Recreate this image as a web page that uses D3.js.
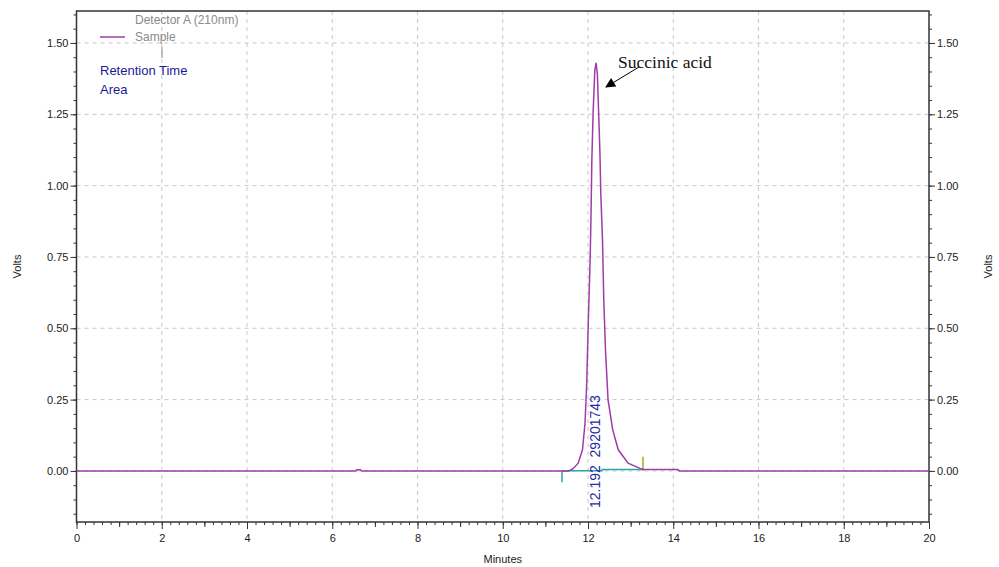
<!DOCTYPE html>
<html>
<head>
<meta charset="utf-8">
<script src="https://cdn.jsdelivr.net/npm/d3@7"></script>
<style>
  body { margin: 0; background: #fff; }
  svg { display: block; font-family: "Liberation Sans", Arial, sans-serif; }
  .tick text { font-size: 11px; fill: #222; }
  .grid line { stroke: #c8c8c8; stroke-dasharray: 4,4; }
</style>
</head>
<body>
<div id="chart"></div>
<script>
// chromatogram trace (minutes, volts)
const times = [0, 6.55, 6.58, 6.66, 6.69, 11.55, 11.65, 11.77, 11.87, 11.93, 11.97, 12.01, 12.05, 12.07,
  12.09, 12.12, 12.16, 12.19, 12.22, 12.25, 12.28, 12.30, 12.34, 12.37, 12.41, 12.47, 12.58, 12.71,
  12.94, 13.22, 13.30, 14.10, 14.15, 20];
const volts = [0, 0, 0.004, 0.004, 0, 0, 0.008, 0.027, 0.074, 0.167, 0.307, 0.54, 0.74, 0.89,
  1.09, 1.255, 1.405, 1.43, 1.39, 1.255, 1.115, 0.974, 0.81, 0.60, 0.424, 0.25, 0.144, 0.074,
  0.027, 0.009, 0.005, 0.005, 0, 0];

// integration marks
const peakStart = 11.39;
const peakEnd = 13.29;
const retentionTime = 12.192;
const peakArea = 29201743;
const baseTimes = [11.39, 12.33, 12.33, 13.27];
const baseVolts = [0.001, 0.001, 0.005, 0.005];

const xTicks = [0, 2, 4, 6, 8, 10, 12, 14, 16, 18, 20];
const yTicks = [0, 0.25, 0.5, 0.75, 1.0, 1.25, 1.5];

const width = 999, height = 567;
const plot = { left: 76.5, right: 929, top: 11, bottom: 522 };

const svg = d3.select('#chart').append('svg')
  .attr('width', width)
  .attr('height', height);

const x = d3.scaleLinear().domain([0, 20]).range([plot.left, plot.right]);
const y = d3.scaleLinear().domain([-0.179, 1.612]).range([plot.bottom, plot.top]);

// grid
const grid = svg.append('g').attr('class', 'grid');
grid.selectAll('.gx')
  .data(xTicks.slice(1, -1))
  .enter().append('line')
  .attr('x1', d => x(d)).attr('x2', d => x(d))
  .attr('y1', plot.top).attr('y2', plot.bottom);
grid.selectAll('.gy')
  .data(yTicks)
  .enter().append('line')
  .attr('x1', plot.left).attr('x2', plot.right)
  .attr('y1', d => y(d)).attr('y2', d => y(d));

// axes
const axisColor = '#333';
function styleAxis(g) {
  g.select('.domain').remove();
  g.selectAll('.tick line').attr('stroke', axisColor);
}

const minorY = d3.range(-0.15, 1.61, 0.05).map(d => +d.toFixed(2));
const minorX = d3.range(0, 20.01, 0.2).map(d => +d.toFixed(1));
const midX = d3.range(1, 20, 2);

svg.append('g').attr('transform', `translate(${plot.left},0)`)
  .call(d3.axisLeft(y).tickValues(minorY).tickSize(3).tickFormat(''))
  .call(styleAxis);
svg.append('g').attr('transform', `translate(${plot.left},0)`)
  .call(d3.axisLeft(y).tickValues(yTicks).tickSize(6).tickPadding(2).tickFormat(d3.format('.2f')))
  .call(styleAxis);
svg.append('g').attr('transform', `translate(${plot.right},0)`)
  .call(d3.axisRight(y).tickValues(minorY).tickSize(3).tickFormat(''))
  .call(styleAxis);
svg.append('g').attr('transform', `translate(${plot.right},0)`)
  .call(d3.axisRight(y).tickValues(yTicks).tickSize(6).tickPadding(2).tickFormat(d3.format('.2f')))
  .call(styleAxis);
svg.append('g').attr('transform', `translate(0,${plot.bottom})`)
  .call(d3.axisBottom(x).tickValues(minorX).tickSize(3).tickFormat(''))
  .call(styleAxis);
svg.append('g').attr('transform', `translate(0,${plot.bottom})`)
  .call(d3.axisBottom(x).tickValues(midX).tickSize(5).tickFormat(''))
  .call(styleAxis);
svg.append('g').attr('transform', `translate(0,${plot.bottom})`)
  .call(d3.axisBottom(x).tickValues(xTicks).tickSize(7).tickPadding(5).tickFormat(d3.format('d')))
  .call(styleAxis);

// frame
svg.append('rect')
  .attr('x', plot.left).attr('y', plot.top)
  .attr('width', plot.right - plot.left).attr('height', plot.bottom - plot.top)
  .attr('fill', 'none').attr('stroke', axisColor).attr('stroke-width', 1.5);

// axis titles
const midY = (plot.top + plot.bottom) / 2;
svg.append('text')
  .attr('transform', `translate(21,${midY}) rotate(-90)`)
  .attr('text-anchor', 'middle').attr('font-size', 11).attr('fill', '#222')
  .text('Volts');
svg.append('text')
  .attr('transform', `translate(992,${midY}) rotate(-90)`)
  .attr('text-anchor', 'middle').attr('font-size', 11).attr('fill', '#222')
  .text('Volts');
svg.append('text')
  .attr('x', (plot.left + plot.right) / 2).attr('y', 563)
  .attr('text-anchor', 'middle').attr('font-size', 11).attr('fill', '#222')
  .text('Minutes');

// integration baseline and markers
const line = d3.line().x(d => x(d[0])).y(d => y(d[1]));
svg.append('path')
  .datum(d3.zip(baseTimes, baseVolts))
  .attr('d', line)
  .attr('fill', 'none').attr('stroke', '#2aa6a6').attr('stroke-width', 1.5);
svg.append('line')
  .attr('x1', x(peakStart)).attr('x2', x(peakStart))
  .attr('y1', y(0)).attr('y2', y(-0.04))
  .attr('stroke', '#2aa6a6').attr('stroke-width', 1.5);
svg.append('line')
  .attr('x1', x(peakEnd)).attr('x2', x(peakEnd))
  .attr('y1', y(0)).attr('y2', y(0.05))
  .attr('stroke', '#b0a020').attr('stroke-width', 1.5);

// trace
svg.append('path')
  .datum(d3.zip(times, volts))
  .attr('d', line)
  .attr('fill', 'none').attr('stroke', '#a03ca8').attr('stroke-width', 1.5);

// peak label
svg.append('text')
  .attr('transform', `translate(${x(retentionTime) + 4},${y(-0.13)}) rotate(-90)`)
  .attr('font-size', 14).attr('fill', '#2a2aa0')
  .attr('xml:space', 'preserve')
  .text(`${retentionTime}  ${peakArea}`);

// legend
svg.append('text').attr('x', 135).attr('y', 24)
  .attr('font-size', 12).attr('fill', '#8a8a8a').text('Detector A (210nm)');
svg.append('text').attr('x', 135).attr('y', 41)
  .attr('font-size', 12).attr('fill', '#8a8a8a').text('Sample');
svg.append('line')
  .attr('x1', 100).attr('x2', 125).attr('y1', 37).attr('y2', 37)
  .attr('stroke', '#a03ca8').attr('stroke-width', 1.5);
svg.append('line')
  .attr('x1', 162).attr('x2', 162).attr('y1', 47).attr('y2', 58)
  .attr('stroke', '#9a9a9a').attr('stroke-width', 1.2);
svg.append('text').attr('x', 100).attr('y', 75)
  .attr('font-size', 13).attr('fill', '#1a1a96').text('Retention Time');
svg.append('text').attr('x', 100).attr('y', 94)
  .attr('font-size', 13).attr('fill', '#1a1a96').text('Area');

// annotation
svg.append('defs').append('marker')
  .attr('id', 'arrow')
  .attr('viewBox', '0 0 10 10').attr('refX', 9).attr('refY', 5)
  .attr('markerWidth', 12).attr('markerHeight', 10)
  .attr('markerUnits', 'userSpaceOnUse')
  .attr('orient', 'auto')
  .append('path').attr('d', 'M0,0 L10,5 L0,10 Z').attr('fill', '#000');
svg.append('text').attr('x', 618).attr('y', 68)
  .attr('font-family', '"Liberation Serif", "Times New Roman", serif')
  .attr('font-size', 17.5).attr('fill', '#111').text('Succinic acid');
svg.append('line')
  .attr('x1', 639).attr('y1', 67).attr('x2', 606).attr('y2', 87)
  .attr('stroke', '#000').attr('stroke-width', 1)
  .attr('marker-end', 'url(#arrow)');
</script>
</body>
</html>
